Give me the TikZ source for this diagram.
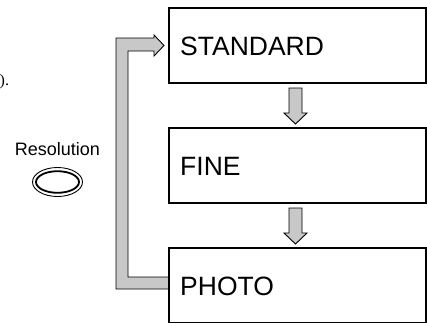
\documentclass[tikz,border=0pt]{standalone}
\usepackage{fontspec}
\setmainfont{Liberation Sans}
\newfontfamily\seriffont{Liberation Serif}
\usetikzlibrary{calc}
\definecolor{arrowgray}{RGB}{200,200,200}
\tikzset{
  modebox/.style={draw=black,line width=1.1bp},
  modetext/.style={anchor=west,inner sep=0pt,font=\fontsize{26.5bp}{30bp}\selectfont},
  blockarrow/.style={draw=black,line width=0.9bp,fill=arrowgray,line join=miter},
}
\begin{document}
\begin{tikzpicture}[x=1bp,y=-1bp]
\useasboundingbox (0,0) rectangle (427,323);
% boxes
\draw[modebox] (169,8) rectangle (426,83);
\draw[modebox] (169,128) rectangle (426,203);
\draw[modebox] (169,248) rectangle (426,322.5);
\node[modetext] (std) at (180,46) {STANDARD};
\node[modetext] (fine) at (180,166) {FINE};
\node[modetext] (photo) at (180,286) {PHOTO};
% down arrows
\foreach \yy [count=\i] in {88,208} {
  \draw[blockarrow] (289,\yy) -- (302,\yy) -- (302,\yy+25) -- (307,\yy+25)
    -- (295.5,\yy+36) -- (284,\yy+25) -- (289,\yy+25) -- cycle;
}
% loop arrow
\draw[blockarrow] (168.5,277) -- (128,277) -- (128,51) -- (154,51) -- (154,56)
  -- (164,45.5) -- (154,35) -- (154,38) -- (116,38) -- (116,289) -- (168.5,289) -- cycle;
% resolution button
\node[anchor=base,inner sep=0pt,font=\fontsize{18bp}{21bp}\selectfont] (res) at (57.5,155) {Resolution};
\draw[line width=0.9bp] (57.5,182) ellipse [x radius=25, y radius=14.5];
\draw[line width=1.8bp] (57.5,182) ellipse [x radius=21.5, y radius=10.8];
% stray text at left edge
\node[anchor=base west,inner sep=0pt,font=\seriffont\fontsize{16bp}{18bp}\selectfont] (frag) at (-0.5,85) {).};
\end{tikzpicture}
\end{document}
